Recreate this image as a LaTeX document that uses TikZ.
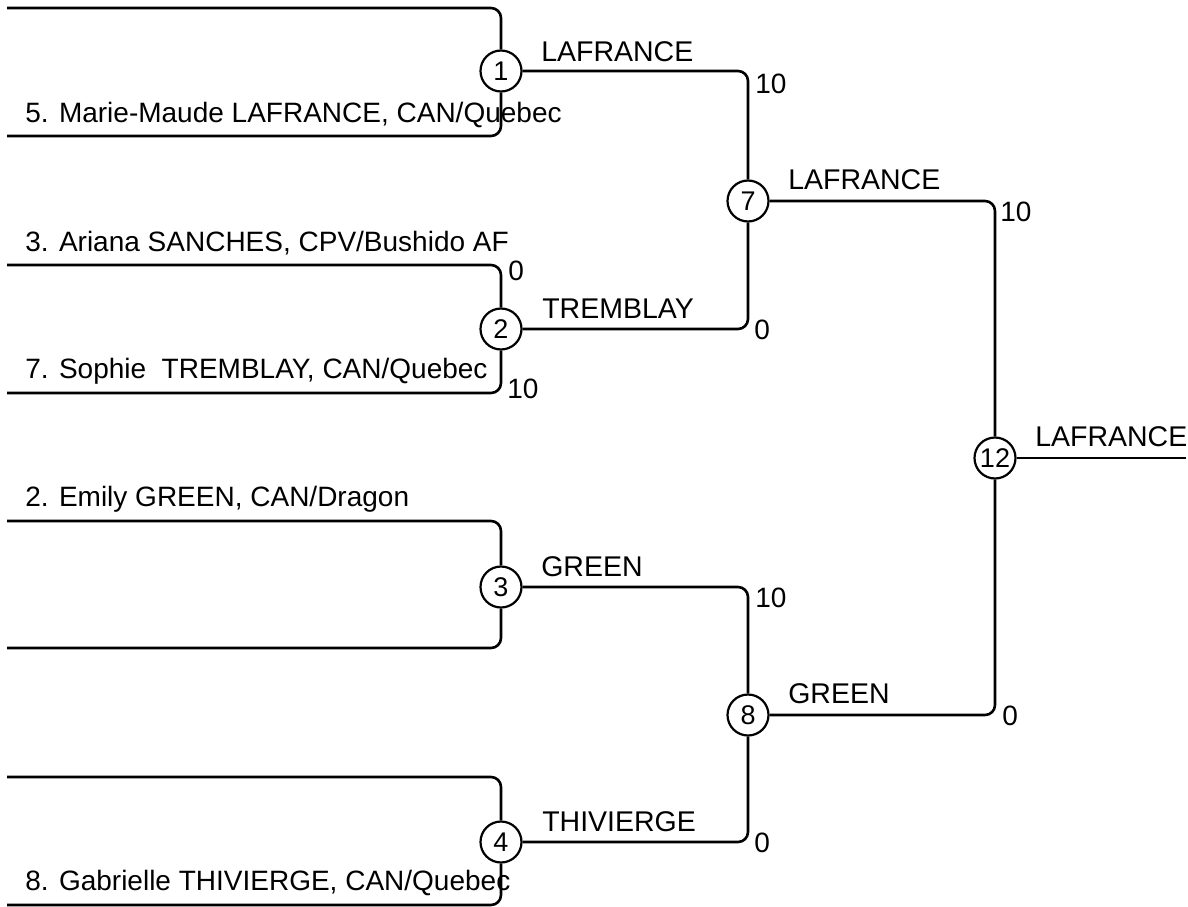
\documentclass[tikz,border=0pt]{standalone}
\usepackage{fontspec}
\setmainfont{Liberation Sans}
\usepackage{tikz}

\begin{document}
\begin{tikzpicture}[x=1pt,y=-1pt,line width=2.6pt,rounded corners=10pt,
  match/.style={circle,draw,line width=2.2pt,minimum size=41pt,inner sep=0pt,fill=white,font=\fontsize{27}{30}\selectfont},
  entrant/.style={anchor=base west,inner sep=0pt,font=\fontsize{28}{32}\selectfont},
  winner/.style={anchor=base west,inner sep=0pt,font=\fontsize{28.5}{32}\selectfont},
  score/.style={anchor=base west,inner sep=0pt,font=\fontsize{28}{32}\selectfont}]
\useasboundingbox (0,0) rectangle (1188,907);

\coordinate (t1) at (7,8);   \coordinate (b1) at (7,136);
\coordinate (t2) at (7,265); \coordinate (b2) at (7,393);
\coordinate (t3) at (7,521); \coordinate (b3) at (7,648);
\coordinate (t4) at (7,777); \coordinate (b4) at (7,905);
\coordinate (champ) at (1186,458);

\node[match] (m1) at (501,71) {1};
\node[match] (m2) at (501,329) {2};
\node[match] (m3) at (501,587) {3};
\node[match] (m4) at (501,842) {4};
\node[match] (m7) at (748,201) {7};
\node[match] (m8) at (748,715) {8};
\node[match] (m12) at (995,458) {12};

\draw (t1) -| (m1) (b1) -| (m1)
      (t2) -| (m2) (b2) -| (m2)
      (t3) -| (m3) (b3) -| (m3)
      (t4) -| (m4) (b4) -| (m4);
\draw (m1) -| (m7) (m2) -| (m7)
      (m3) -| (m8) (m4) -| (m8);
\draw (m7) -| (m12) (m8) -| (m12);
\draw (m12) -- (champ);

% entrants
\node[entrant] (e5) at (24,122) {5. Marie-Maude LAFRANCE, CAN/Quebec};
\node[entrant] (e3) at (24,251) {3. Ariana SANCHES, CPV/Bushido AF};
\node[entrant] (e7) at (24,378) {7. Sophie\ \ TREMBLAY, CAN/Quebec};
\node[entrant] (e2) at (24,506) {2. Emily GREEN, CAN/Dragon};
\node[entrant] (e8) at (24,890) {8. Gabrielle THIVIERGE, CAN/Quebec};

% winners
\node[winner] at (540,62) {LAFRANCE};
\node[winner] at (541,318) {TREMBLAY};
\node[winner] at (540,576) {GREEN};
\node[winner] at (541,831) {THIVIERGE};
\node[winner] at (787,189) {LAFRANCE};
\node[winner] at (787,703) {GREEN};
\node[winner] at (1034,446) {LAFRANCE};

% scores
\node[score] at (754,93) {10};
\node[score] at (507,280) {0};
\node[score] at (506,398) {10};
\node[score] at (753,339) {0};
\node[score] at (999,221) {10};
\node[score] at (754,607) {10};
\node[score] at (753,852) {0};
\node[score] at (1001,725) {0};
\end{tikzpicture}
\end{document}
